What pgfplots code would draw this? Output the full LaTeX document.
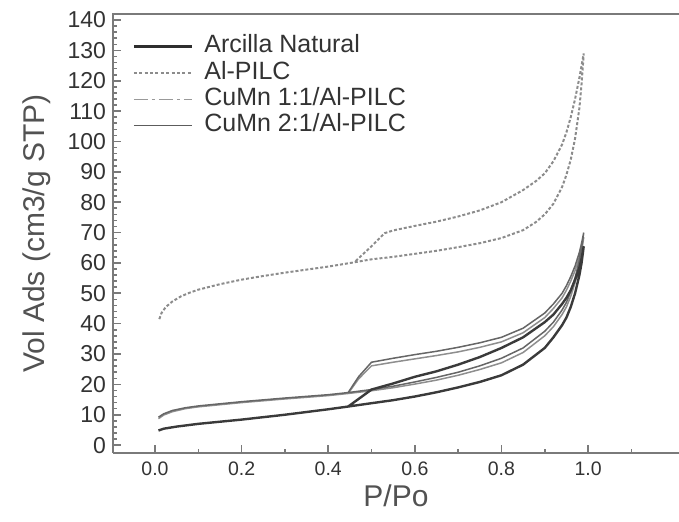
\documentclass[border=0pt]{standalone}
\usepackage{fontspec}
\setmainfont{Liberation Sans}
\usepackage{pgfplots}
\pgfplotsset{compat=1.18}
\definecolor{axgray}{HTML}{7A7A7A}
\definecolor{txt}{HTML}{333333}
\definecolor{arc}{HTML}{3A3A3A}
\definecolor{alp}{HTML}{8C8C8C}
\definecolor{cu11}{HTML}{8E8E8E}
\definecolor{cu21}{HTML}{666666}
\begin{document}
\begin{tikzpicture}
\begin{axis}[
 scale only axis, width=283pt, height=219.5pt,
 xmin=-0.097, xmax=1.21, ymin=-2.6, ymax=142,
 axis x line*=bottom, axis y line*=left,
 axis line style={-, draw=axgray, line width=1pt},
 tick align=inside,
 xtick={0,0.2,0.4,0.6,0.8,1.0},
 minor xtick={0.1,0.3,0.5,0.7,0.9,1.1},
 ytick={0,10,...,140},
 minor y tick num=4,
 major tick length=4pt, minor tick length=2pt,
 tick style={draw=axgray, line width=0.8pt},
 /pgf/number format/assume math mode=true,
 xticklabel style={font=\fontsize{9.75}{10}\selectfont, text=txt, yshift=-1pt, /pgf/number format/.cd, fixed, fixed zerofill, precision=1},
 yticklabel style={font=\fontsize{11.5}{12}\selectfont, text=txt},
 xlabel={P/Po}, ylabel={Vol Ads (cm3/g STP)},
 label style={font=\fontsize{15}{16}\selectfont, text=txt!85},
 xlabel style={at={(rel axis cs:0.5,0)}, anchor=north, yshift=-12.5pt},
 ylabel style={at={(rel axis cs:0,0.5)}, anchor=south, yshift=27.5pt},
 legend cell align=left,
 legend image code/.code={\draw[#1] (0pt,0pt) -- (29pt,0pt);},
 legend style={at={(0,1)}, anchor=north west, xshift=9.5pt, yshift=-9.5pt,
   draw=none, fill=none, inner sep=0pt, row sep=0pt,
   font=\fontsize{12.5}{13}\selectfont, text=txt,
   nodes={inner sep=0.5pt, text height=9.2pt, text depth=3pt},
   /tikz/every odd column/.append style={column sep=5pt}},
]
\addlegendimage{draw=arc!80!black, line width=1.5pt}
\addlegendentry{Arcilla Natural}
\addlegendimage{draw=alp, line width=0.6pt, dash pattern=on 1.5pt off 1.2pt}
\addlegendentry{Al-PILC}
\addlegendimage{draw=cu11!90, line width=0.6pt, dash pattern=on 7pt off 2pt on 1.5pt off 2pt}
\addlegendentry{CuMn 1:1/Al-PILC}
\addlegendimage{draw=cu21!90!black, line width=0.7pt}
\addlegendentry{CuMn 2:1/Al-PILC}

% Al-PILC
\addplot[forget plot, draw=alp, line width=1pt, dash pattern=on 1.5pt off 1pt] coordinates {
(0.01,41.5) (0.015,43.5) (0.025,45.5) (0.04,47.3) (0.06,49) (0.08,50.2) (0.1,51.2)
(0.15,53) (0.2,54.5) (0.25,55.7) (0.3,56.8) (0.35,57.8) (0.4,58.8) (0.46,60.2)
(0.5,61.2) (0.55,62) (0.6,63) (0.65,64) (0.7,65.2) (0.75,66.5) (0.8,68.2) (0.85,70.8)
(0.88,73.5) (0.9,76) (0.92,79.5) (0.94,85) (0.95,89) (0.96,94) (0.97,101) (0.98,111)
(0.985,119) (0.99,129)
(0.985,125) (0.98,121) (0.97,114) (0.96,108) (0.95,103) (0.94,99) (0.92,93.5) (0.9,89.5)
(0.88,87) (0.85,84) (0.8,80) (0.75,77.3) (0.7,75.3) (0.65,73.6) (0.6,72.2) (0.55,70.7)
(0.53,69.8) (0.5,65.5) (0.46,60.2)
};
% CuMn 1:1
\addplot[forget plot, draw=cu11, line width=0.75pt] coordinates {
(0.008,8.7) (0.02,9.9) (0.04,11.0) (0.07,12.0) (0.1,12.6) (0.15,13.3) (0.2,14.0) (0.3,15.2)
(0.4,16.3) (0.446,17.0) (0.5,17.9) (0.55,18.9) (0.6,20.1) (0.65,21.4) (0.7,23) (0.75,24.9)
(0.8,27.1) (0.85,30.5) (0.9,36) (0.92,39) (0.94,43) (0.95,45.5) (0.96,49) (0.97,53.5)
(0.98,59.5) (0.985,63.5) (0.99,68.5)
(0.985,65) (0.98,62) (0.97,57.5) (0.96,54) (0.95,51) (0.94,48.5) (0.92,45) (0.9,42)
(0.85,37) (0.8,34) (0.75,32.2) (0.7,30.7) (0.65,29.5) (0.6,28.4) (0.55,27.3) (0.5,26.1)
(0.47,21.8) (0.446,17.0)
};
% CuMn 2:1
\addplot[forget plot, draw=cu21, line width=0.75pt] coordinates {
(0.008,9.2) (0.02,10.3) (0.04,11.4) (0.07,12.3) (0.1,12.9) (0.15,13.6) (0.2,14.3) (0.3,15.5)
(0.4,16.6) (0.446,17.3) (0.5,18.3) (0.55,19.4) (0.6,20.8) (0.65,22.3) (0.7,24) (0.75,26.1)
(0.8,28.6) (0.85,32) (0.9,37.5) (0.92,40.5) (0.94,44.5) (0.95,47) (0.96,50.5) (0.97,55)
(0.98,61) (0.985,65) (0.99,70)
(0.985,66.5) (0.98,63.5) (0.97,59) (0.96,55.5) (0.95,52.5) (0.94,50) (0.92,46.5) (0.9,43.5)
(0.85,38.5) (0.8,35.5) (0.75,33.7) (0.7,32.2) (0.65,30.9) (0.6,29.8) (0.55,28.6) (0.5,27.3)
(0.47,22.5) (0.446,17.3)
};
% Arcilla Natural
\addplot[forget plot, draw=arc, line width=1.2pt] coordinates {
(0.008,4.8) (0.02,5.4) (0.05,6.1) (0.1,7.0) (0.15,7.7) (0.2,8.4) (0.3,10.0) (0.4,11.8)
(0.446,12.7) (0.5,13.8) (0.55,14.8) (0.6,16) (0.65,17.4) (0.7,19) (0.75,20.8) (0.8,23)
(0.85,26.5) (0.9,32) (0.92,35.5) (0.94,39.5) (0.95,42) (0.96,45.5) (0.97,50) (0.98,56)
(0.985,60) (0.99,65.5)
(0.985,61.5) (0.98,58.5) (0.97,54.5) (0.96,51) (0.95,48.5) (0.94,46.5) (0.92,43) (0.9,40.5)
(0.85,35.5) (0.8,32) (0.75,29) (0.7,26.5) (0.65,24.3) (0.6,22.5) (0.55,20.3) (0.5,18.3)
(0.446,12.7)
};
\coordinate (bl) at (rel axis cs:0,0);
\coordinate (tl) at (rel axis cs:0,1);
\coordinate (tr) at (rel axis cs:1,1);
\end{axis}
\draw[axgray, line width=1pt] ([xshift=-0.5pt]tl) -- (tr);
\pgfresetboundingbox
\path[use as bounding box] ([shift={(-56.5pt,-34.5pt)}]bl) rectangle ([shift={(0pt,7pt)}]tr);
\end{tikzpicture}
\end{document}
